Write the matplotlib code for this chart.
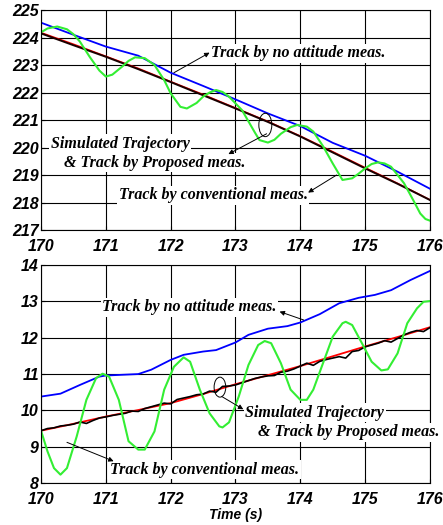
import matplotlib.pyplot as plt
from matplotlib.patches import Ellipse

# ---- top panel data ----
t_top = [170, 170.5, 171, 171.5, 172, 172.5, 173, 173.5, 174, 174.5, 175, 175.5, 176]
sim_top = [224.18, 223.76, 223.32, 222.88, 222.40, 221.93, 221.44, 220.95, 220.42, 219.85, 219.27, 218.70, 218.10]
prop_top = [224.15, 223.72, 223.30, 222.85, 222.38, 221.90, 221.42, 220.93, 220.40, 219.82, 219.24, 218.68, 218.09]
noatt_top = [224.54, 224.10, 223.67, 223.34, 222.72, 222.24, 221.75, 221.24, 220.78, 220.17, 219.70, 219.12, 218.50]

t_conv_top = [170.0, 170.1, 170.25, 170.4, 170.5, 170.6, 170.75, 170.9, 171.0, 171.1, 171.25,
              171.35, 171.45, 171.6, 171.75, 171.9, 172.0, 172.15, 172.25, 172.4, 172.5, 172.6,
              172.7, 172.8, 172.9, 173.1, 173.3, 173.37, 173.5, 173.6, 173.7, 173.85, 173.95,
              174.1, 174.2, 174.35, 174.5, 174.65, 174.8, 174.9, 175.0, 175.1, 175.2, 175.3,
              175.4, 175.6, 175.75, 175.85, 175.93, 176.0]
conv_top = [224.19, 224.33, 224.40, 224.30, 224.12, 223.85, 223.30, 222.80, 222.58, 222.65, 222.94,
            223.15, 223.28, 223.25, 223.00, 222.45, 221.97, 221.48, 221.42, 221.62, 221.85, 222.00,
            222.09, 222.02, 221.85, 221.36, 220.54, 220.27, 220.18, 220.28, 220.50, 220.74, 220.82,
            220.76, 220.58, 220.05, 219.42, 218.82, 218.88, 219.05, 219.24, 219.40, 219.46, 219.42,
            219.30, 218.70, 218.05, 217.60, 217.40, 217.34]

# ---- bottom panel data ----
t_bot = [170, 170.5, 171, 171.5, 172, 172.5, 173, 173.5, 174, 174.5, 175, 175.5, 176]
sim_bot = [9.44, 9.63, 9.83, 10.01, 10.20, 10.45, 10.72, 10.97, 11.22, 11.49, 11.76, 12.02, 12.29]

t_prop_bot = [170.0, 170.1, 170.2, 170.3, 170.4, 170.5, 170.6, 170.7, 170.8, 170.9,
              171.0, 171.1, 171.2, 171.3, 171.4, 171.5, 171.6, 171.7, 171.8, 171.9,
              172.0, 172.1, 172.2, 172.3, 172.4, 172.5, 172.6, 172.7, 172.8, 172.9,
              173.0, 173.1, 173.2, 173.3, 173.4, 173.5, 173.6, 173.7, 173.8, 173.9,
              174.0, 174.1, 174.2, 174.3, 174.4, 174.5, 174.6, 174.7, 174.8, 174.9,
              175.0, 175.1, 175.2, 175.3, 175.4, 175.5, 175.6, 175.7, 175.8, 175.9, 176.0]
prop_bot = [9.44, 9.50, 9.52, 9.57, 9.59, 9.62, 9.68, 9.64, 9.72, 9.79,
            9.82, 9.86, 9.89, 9.92, 9.98, 9.97, 10.05, 10.10, 10.15, 10.20,
            10.18, 10.30, 10.34, 10.38, 10.43, 10.45, 10.53, 10.50, 10.66, 10.67,
            10.70, 10.76, 10.82, 10.88, 10.92, 10.95, 10.96, 11.05, 11.08, 11.14,
            11.22, 11.30, 11.24, 11.35, 11.40, 11.44, 11.48, 11.44, 11.62, 11.65,
            11.75, 11.80, 11.85, 11.92, 11.88, 11.98, 12.08, 12.15, 12.20, 12.17, 12.28]

t_noatt_bot = [170.0, 170.3, 170.6, 170.9, 171.0, 171.5, 171.7, 172.0, 172.2, 172.5, 172.7,
               173.0, 173.2, 173.5, 173.8, 174.0, 174.3, 174.6, 174.9, 175.15, 175.4, 175.7, 176.0]
noatt_bot = [10.38, 10.46, 10.70, 10.93, 10.96, 11.00, 11.12, 11.39, 11.53, 11.62, 11.66,
             11.87, 12.08, 12.25, 12.32, 12.42, 12.65, 12.95, 13.10, 13.18, 13.31, 13.59, 13.84]

t_conv_bot = [170.0, 170.1, 170.2, 170.3, 170.4, 170.55, 170.7, 170.85, 170.95, 171.05, 171.2,
              171.35, 171.5, 171.6, 171.75, 171.9, 172.05, 172.2, 172.3, 172.45, 172.6, 172.75,
              172.8, 172.9, 173.05, 173.2, 173.35, 173.45, 173.55, 173.7, 173.85, 174.0, 174.1,
              174.2, 174.35, 174.5, 174.65, 174.7, 174.8, 174.95, 175.1, 175.25, 175.35, 175.5,
              175.65, 175.8, 175.9, 176.0]
conv_bot = [9.44, 8.87, 8.41, 8.23, 8.41, 9.28, 10.29, 10.89, 11.01, 10.93, 10.29,
            9.15, 8.92, 8.92, 9.42, 10.57, 11.20, 11.46, 11.34, 10.57, 9.92, 9.56,
            9.53, 9.67, 10.38, 11.25, 11.80, 11.91, 11.85, 11.30, 10.57, 10.29, 10.29,
            10.57, 11.30, 12.03, 12.40, 12.44, 12.35, 11.85, 11.34, 11.10, 11.13, 11.57,
            12.40, 12.81, 12.99, 13.01]

xticks = [170, 171, 172, 173, 174, 175, 176]

tick_font = dict(family='Liberation Sans', weight='bold', style='italic', size=11.5)
note_font = dict(family='Liberation Serif', weight='bold', style='italic', size=11.5)
box = dict(facecolor='white', edgecolor='none', pad=1.0)
arrow = dict(arrowstyle='-|>', color='black', lw=0.7, mutation_scale=7, shrinkA=0, shrinkB=0)

fig = plt.figure(figsize=(4.43, 5.25), dpi=100)
ax1 = fig.add_axes([0.0926, 0.5619, 0.878, 0.419])
ax2 = fig.add_axes([0.0926, 0.08, 0.878, 0.415])


def style(ax, ylim, yticks):
    ax.set_xlim(170, 176)
    ax.set_ylim(*ylim)
    ax.set_xticks(xticks)
    ax.set_yticks(yticks)
    ax.grid(True, color='black', lw=0.8)
    ax.tick_params(direction='in', length=3)
    ax.tick_params(axis='x', pad=6.5)
    ax.tick_params(axis='y', pad=1.5)
    ax.set_xticklabels([str(v) for v in xticks], **tick_font)
    ax.set_yticklabels([str(v) for v in yticks], **tick_font)
    for s in ax.spines.values():
        s.set_linewidth(0.8)


# top panel
style(ax1, (217, 225), list(range(217, 226)))
ax1.plot(t_top, sim_top, color='red', lw=1.0)
ax1.plot(t_top, prop_top, color='#1a0000', lw=1.4)
ax1.plot(t_top, noatt_top, color='blue', lw=1.3)
ax1.plot(t_conv_top, conv_top, color='#33ee33', lw=1.5)

ax1.annotate('', xy=(172.6, 223.45), xytext=(172.05, 222.72), arrowprops=arrow, zorder=6)
ax1.text(172.62, 223.42, 'Track by no attitude meas.', va='center', ha='left',
         bbox=box, zorder=5, **note_font)
ax1.text(170.15, 220.13, 'Simulated Trajectory', va='center', ha='left',
         bbox=box, zorder=5, **note_font)
ax1.text(170.35, 219.45, '& Track by Proposed meas.', va='center', ha='left',
         bbox=box, zorder=5, **note_font)
ax1.add_patch(Ellipse((173.46, 220.82), 0.2, 0.85, fill=False, ec='black', lw=0.7, zorder=6))
ax1.annotate('', xy=(172.89, 219.76), xytext=(173.48, 220.5), arrowprops=arrow, zorder=6)
ax1.text(171.2, 218.27, 'Track by conventional meas.', va='center', ha='left',
         bbox=box, zorder=5, **note_font)
ax1.annotate('', xy=(174.12, 218.36), xytext=(174.56, 219.0), arrowprops=arrow, zorder=6)

# bottom panel
style(ax2, (8, 14), list(range(8, 15)))
ax2.plot(t_bot, sim_bot, color='red', lw=1.3)
ax2.plot(t_prop_bot, prop_bot, color='black', lw=1.2)
ax2.plot(t_noatt_bot, noatt_bot, color='blue', lw=1.3)
ax2.plot(t_conv_bot, conv_bot, color='#33ee33', lw=1.5)

ax2.text(170.94, 12.84, 'Track by no attitude meas.', va='center', ha='left',
         bbox=box, zorder=5, **note_font)
ax2.annotate('', xy=(173.68, 12.72), xytext=(174.05, 12.49), arrowprops=arrow, zorder=6)
ax2.add_patch(Ellipse((172.76, 10.64), 0.18, 0.55, fill=False, ec='black', lw=0.7, zorder=6))
ax2.annotate('', xy=(173.12, 10.03), xytext=(172.79, 10.38), arrowprops=arrow, zorder=6)
ax2.text(173.15, 9.93, 'Simulated Trajectory', va='center', ha='left',
         bbox=box, zorder=5, **note_font)
ax2.text(173.35, 9.40, '& Track by Proposed meas.', va='center', ha='left',
         bbox=box, zorder=5, **note_font)
ax2.text(171.07, 8.37, 'Track by conventional meas.', va='center', ha='left',
         bbox=box, zorder=5, **note_font)
ax2.annotate('', xy=(171.12, 8.6), xytext=(170.4, 9.12), arrowprops=arrow, zorder=6)

ax2.set_xlabel('Time (s)', labelpad=1, family='Liberation Sans', weight='bold',
               style='italic', size=10)

fig.savefig('out.png', dpi=100)
